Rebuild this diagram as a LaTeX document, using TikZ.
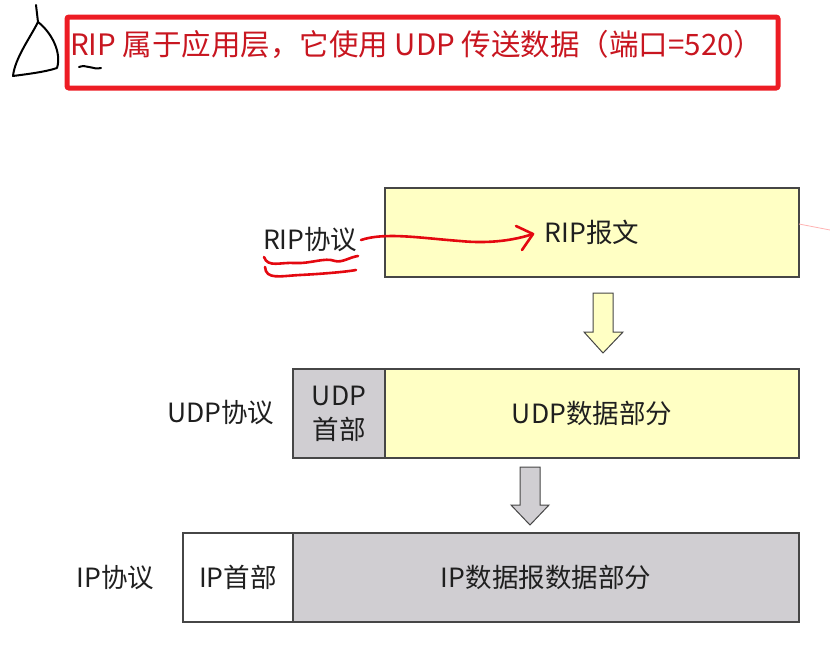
\documentclass[tikz,border=0pt]{standalone}
\usepackage{fontspec}
\setmainfont{Noto Sans CJK SC}
\usetikzlibrary{positioning}
\definecolor{hdrgray}{RGB}{208,206,210}
\definecolor{msgyellow}{RGB}{255,255,196}
\definecolor{boxline}{RGB}{70,70,70}
\definecolor{titlered}{RGB}{237,28,36}
\definecolor{textred}{RGB}{200,22,32}
\definecolor{inkred}{RGB}{228,8,16}
\begin{document}
\begin{tikzpicture}[x=1pt,y=-1pt,
  field/.style={draw=boxline,line width=1.5pt,outer sep=0pt,inner sep=0pt,minimum height=89pt,
    font=\fontsize{26.5}{34}\selectfont,text=black!88,align=center},
  lbl/.style={font=\fontsize{26.5}{30}\selectfont,text=black!88},
  blockarrow/.style={draw=boxline,line width=1pt,line join=miter},
  ink/.style={inkred,line width=2.6pt,line cap=round,line join=round}]
\useasboundingbox (0,0) rectangle (830,651);

\node[draw=titlered,line width=5pt,rounded corners=2pt,minimum width=711pt,minimum height=71pt,
  anchor=north west,inner sep=0pt] (titlebox) at (64.5,14.5) {};
\node[anchor=west,inner sep=0pt,text=textred,font=\fontsize{29.5}{32}\selectfont] (titletext) at (70,44)
  {RIP 属于应用层，它使用 UDP 传送数据（端口=520）};

\draw[line width=2pt,line cap=round,line join=round] (36,5) .. controls (37,14) .. (38,22)
  .. controls (30,38) and (15,58) .. (13,76) .. controls (28,74) and (45,72) .. (57,68)
  .. controls (62,52) and (51,32) .. (38,22);
\draw[line width=2pt,line cap=round] (79,67) .. controls (86,64) and (93,70) .. (101,68);

\node[field,fill=msgyellow,minimum width=414pt,anchor=north west] (ripmsg) at (385,188) {RIP报文};
\node[field,fill=hdrgray,minimum width=92pt,anchor=north west] (udphdr) at (293,369) {UDP\\首部};
\node[field,fill=msgyellow,minimum width=414pt,right=0pt of udphdr] (udpdata) {UDP数据部分};
\node[field,fill=white,minimum width=110pt,anchor=north west] (iphdr) at (183,533) {IP首部};
\node[field,fill=hdrgray,minimum width=506pt,right=0pt of iphdr] (ipdata) {IP数据报数据部分};

\node[lbl,anchor=east] (riplbl) at (361,240) {RIP协议};
\node[lbl,anchor=east] (udplbl) at (278,413) {UDP协议};
\node[lbl,anchor=east] (iplbl) at (158,578) {IP协议};

\draw[blockarrow,fill=msgyellow] (593,293) -- (613,293) -- (613,332) -- (623,332) -- (603,353)
  -- (584,332) -- (593,332) -- cycle;
\draw[blockarrow,fill=hdrgray] (520,467) -- (540,467) -- (540,505) -- (549,505) -- (530,525)
  -- (511,505) -- (520,505) -- cycle;

\coordinate (inktip) at (533,234);
\draw[ink] (riplbl.east) .. controls (385,232) and (420,238) .. (460,241)
  .. controls (490,244) and (515,240) .. (inktip);
\draw[ink] (516,226) -- (inktip) -- (522,250);
\draw[ink] (264,257) .. controls (268,268) and (280,262) .. (295,263)
  .. controls (310,264) and (325,257) .. (335,261) .. controls (342,263) and (350,257) .. (358,256);
\draw[ink] (265,267) .. controls (266,280) and (280,276) .. (300,275)
  .. controls (320,274) and (345,272) .. (356,270);
\draw[red!30,line width=0.8pt] (ripmsg.north east) ++(0,36) -- (830,230);
\end{tikzpicture}
\end{document}
